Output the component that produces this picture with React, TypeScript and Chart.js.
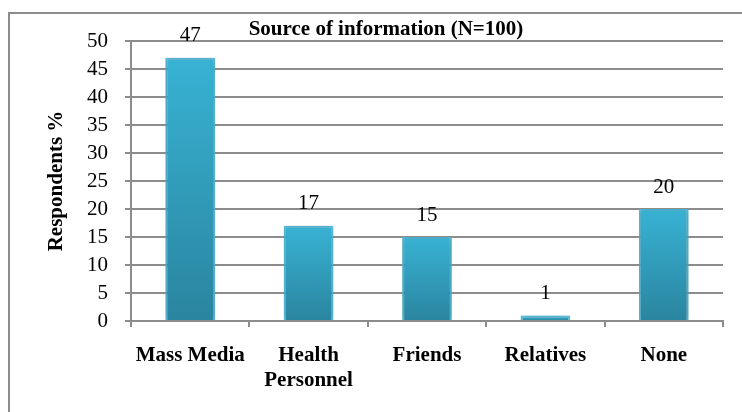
import React, { useEffect, useRef } from "react";
import { Chart, registerables } from "chart.js";

Chart.register(...registerables);

const categories: (string | string[])[] = [
  "Mass Media",
  ["Health", "Personnel"],
  "Friends",
  "Relatives",
  "None",
];
const respondentsPct: number[] = [47, 17, 15, 1, 20];
const chartTitle = "Source of information (N=100)";
const yAxisTitle = "Respondents %";
const yMin = 0;
const yMax = 50;
const yStep = 5;

const FONT = '"Liberation Serif", "Times New Roman", serif';
const GRID = "#8c8c8c";

// Frame around the figure plus white background
const framePlugin = {
  id: "frame",
  beforeDraw(chart: Chart) {
    const { ctx, width, height } = chart;
    ctx.save();
    ctx.fillStyle = "#ffffff";
    ctx.fillRect(0, 0, width, height);
    ctx.strokeStyle = GRID;
    ctx.lineWidth = 2;
    ctx.beginPath();
    ctx.moveTo(9, height);
    ctx.lineTo(9, 13);
    ctx.lineTo(width, 13);
    ctx.stroke();
    ctx.restore();
  },
};

// Soft shadow behind the bars
const shadowPlugin = {
  id: "barShadow",
  beforeDatasetsDraw(chart: Chart) {
    const ctx = chart.ctx;
    ctx.save();
    ctx.shadowColor = "rgba(0,0,0,0.28)";
    ctx.shadowBlur = 6;
    ctx.shadowOffsetX = 0;
    ctx.shadowOffsetY = 0;
  },
  afterDatasetsDraw(chart: Chart) {
    chart.ctx.restore();
  },
};

// Value labels above each bar and the chart heading
const labelPlugin = {
  id: "valueLabels",
  afterDraw(chart: Chart) {
    const { ctx } = chart;
    const meta = chart.getDatasetMeta(0);
    ctx.save();
    ctx.fillStyle = "#000";
    ctx.font = `21px ${FONT}`;
    ctx.textAlign = "center";
    ctx.textBaseline = "middle";
    meta.data.forEach((bar: any, i: number) => {
      ctx.fillText(String(respondentsPct[i]), bar.x, bar.y - 22);
    });
    ctx.font = `bold 21px ${FONT}`;
    ctx.fillText(chartTitle, 386, 30);
    ctx.restore();
  },
};

export default function App() {
  const canvasRef = useRef<HTMLCanvasElement | null>(null);

  useEffect(() => {
    document.body.style.margin = "0";
    const canvas = canvasRef.current;
    if (!canvas) return;

    const chart = new Chart(canvas, {
      type: "bar",
      data: {
        labels: categories,
        datasets: [
          {
            data: respondentsPct,
            backgroundColor: (c: any) => {
              const ch = c.chart;
              const y = ch.scales?.y;
              if (!y || c.type !== "data") return "#33a8c9";
              const top = y.getPixelForValue(Number(c.raw));
              const base = y.getPixelForValue(0);
              if (!isFinite(top) || !isFinite(base) || top === base) return "#33a8c9";
              const g = ch.ctx.createLinearGradient(0, top, 0, base);
              g.addColorStop(0, "#38b2d4");
              g.addColorStop(1, "#2a859f");
              return g;
            },
            borderColor: "rgba(80,190,222,0.95)",
            borderWidth: 2,
            borderSkipped: "start",
            barPercentage: 0.42,
            categoryPercentage: 1,
          },
        ],
      },
      options: {
        responsive: false,
        animation: false,
        maintainAspectRatio: false,
        layout: { padding: { top: 41, right: 19, left: 0, bottom: 0 } },
        plugins: {
          legend: { display: false },
          title: { display: false },
          tooltip: { enabled: false },
        },
        scales: {
          x: {
            afterFit: (s: any) => {
              s.height = 91;
            },
            grid: {
              drawOnChartArea: false,
              drawTicks: true,
              tickLength: 6,
              color: GRID,
              lineWidth: 2,
            },
            border: { color: GRID, width: 2 },
            ticks: {
              color: "#000",
              padding: 16,
              maxRotation: 0,
              autoSkip: false,
              font: { family: FONT, size: 21, weight: "bold", lineHeight: 1.2 },
            },
          },
          y: {
            min: yMin,
            max: yMax,
            afterFit: (s: any) => {
              s.width = 131;
            },
            grid: {
              color: GRID,
              lineWidth: 2,
              tickLength: 6,
            },
            border: { color: GRID, width: 2 },
            ticks: {
              stepSize: yStep,
              autoSkip: false,
              color: "#000",
              padding: 17,
              font: { family: FONT, size: 21 },
            },
            title: {
              display: true,
              text: yAxisTitle,
              color: "#000",
              padding: { top: 44, bottom: 0 },
              font: { family: FONT, size: 21, weight: "bold" },
            },
          },
        },
      },
      plugins: [framePlugin, shadowPlugin, labelPlugin],
    });

    return () => chart.destroy();
  }, []);

  return (
    <div style={{ width: 742, height: 412, overflow: "hidden" }}>
      <canvas ref={canvasRef} width={742} height={412} style={{ display: "block" }} />
    </div>
  );
}
